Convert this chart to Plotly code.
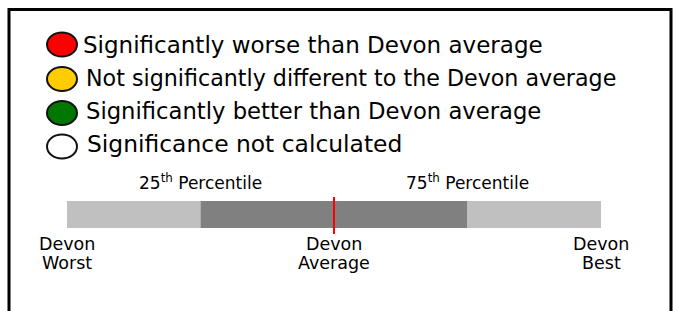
import plotly.graph_objects as go

W, H = 679, 311

# ---- data ----
legend_labels = [
    "Significantly worse than Devon average",
    "Not significantly different to the Devon average",
    "Significantly better than Devon average",
    "Significance not calculated",
]
segment_starts = [0, 25, 75]
segment_ends = [25, 75, 100]
average_value = [50]
percentile_values = [25, 75]
percentile_labels = ["25<sup>th</sup> Percentile", "75<sup>th</sup> Percentile"]
endpoint_values = [0, 50, 100]
endpoint_labels = [("Devon", "Worst"), ("Devon", "Average"), ("Devon", "Best")]

# ---- styles ----
legend_fill = ["#ff0000", "#ffcc00", "#007700", "#ffffff"]
segment_colors = ["#c0c0c0", "#808080", "#c0c0c0"]
FONT = "DejaVu Sans"


def px(x):
    return x / W


def py(y):
    return 1 - y / H


fig = go.Figure()
fig.add_trace(go.Bar(
    orientation="h",
    y=[0] * len(segment_starts),
    x=[e - s for s, e in zip(segment_starts, segment_ends)],
    base=segment_starts,
    width=1,
    marker=dict(color=segment_colors, line=dict(width=0)),
    hoverinfo="skip",
    showlegend=False,
))

shapes = []
# border
shapes.append(dict(type="rect", xref="paper", yref="paper",
                   x0=px(9), x1=px(671), y0=py(9.5), y1=py(330),
                   line=dict(color="black", width=3), fillcolor="rgba(0,0,0,0)"))
# average line
shapes.append(dict(type="line", xref="x", yref="paper",
                   x0=average_value[0], x1=average_value[0], y0=py(197), y1=py(234),
                   line=dict(color="#ff0000", width=2)))

annotations = []
circle_y = [44.5, 79, 113, 146.5]
text_y = [45, 78, 111, 144]
text_x = [81, 84, 84, 85]
text_size = [23, 22.2, 22.7, 23.4]
for i, lab in enumerate(legend_labels):
    cy = circle_y[i]
    shapes.append(dict(type="circle", xref="paper", yref="paper",
                       x0=px(47), x1=px(77), y0=py(cy - 12), y1=py(cy + 12),
                       fillcolor=legend_fill[i], line=dict(color="#111111", width=2)))
    annotations.append(dict(text=lab, xref="paper", yref="paper",
                            x=px(text_x[i]), y=py(text_y[i]), xanchor="left", yanchor="middle",
                            showarrow=False, font=dict(family=FONT, size=text_size[i], color="black")))

for v, lab in zip(percentile_values, percentile_labels):
    annotations.append(dict(text=lab, xref="x", yref="paper", x=v, y=py(182),
                            xanchor="center", yanchor="middle", showarrow=False,
                            font=dict(family=FONT, size=17, color="black")))

for v, (l1, l2) in zip(endpoint_values, endpoint_labels):
    annotations.append(dict(text=l1, xref="x", yref="paper", x=v, y=py(244),
                            xanchor="center", yanchor="middle", showarrow=False,
                            font=dict(family=FONT, size=17.5, color="black")))
    annotations.append(dict(text=l2, xref="x", yref="paper", x=v, y=py(262.5),
                            xanchor="center", yanchor="middle", showarrow=False,
                            font=dict(family=FONT, size=17.5, color="black")))

fig.update_layout(
    width=W, height=H,
    margin=dict(l=0, r=0, t=0, b=0),
    paper_bgcolor="white", plot_bgcolor="rgba(0,0,0,0)",
    barmode="overlay",
    xaxis=dict(range=[0, 100], domain=[px(67), px(601)], visible=False, fixedrange=True),
    yaxis=dict(range=[-0.5, 0.5], domain=[py(228), py(201)], visible=False, fixedrange=True),
    shapes=shapes,
    annotations=annotations,
    showlegend=False,
)

fig.write_html("out.html", config={"displayModeBar": False},
               post_script="document.body.style.margin='0';document.body.style.overflow='hidden';")
